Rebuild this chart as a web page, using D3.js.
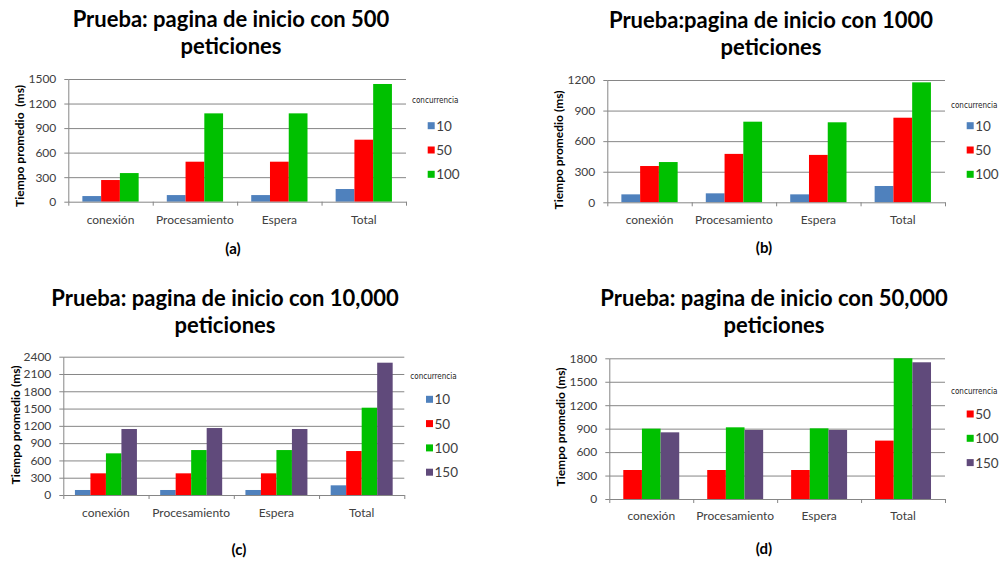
<!DOCTYPE html>
<html>
<head>
<meta charset="utf-8">
<script src="https://cdn.jsdelivr.net/npm/d3@7"></script>
<style>
  body { margin: 0; background: #fff; }
  svg { display: block; }
  text { font-family: Lato, "Open Sans", sans-serif; }
</style>
</head>
<body>
<svg id="chart" width="999" height="561"></svg>
<script>
// Shared categories of the Apache-bench timing breakdown
const categories = ["conexión", "Procesamiento", "Espera", "Total"];

// (a) 500 peticiones
const seriesA = ["10", "50", "100"];
const a10  = [69, 81, 81, 155];
const a50  = [265, 489, 489, 758];
const a100 = [350, 1080, 1080, 1439];

// (b) 1000 peticiones
const seriesB = ["10", "50", "100"];
const b10  = [78, 88, 78, 160];
const b50  = [356, 475, 465, 830];
const b100 = [395, 791, 785, 1177];

// (c) 10,000 peticiones
const seriesC = ["10", "50", "100", "150"];
const c10  = [87, 87, 87, 168];
const c50  = [376, 376, 376, 763];
const c100 = [723, 780, 780, 1515];
const c150 = [1145, 1162, 1145, 2296];

// (d) 50,000 peticiones
const seriesD = ["50", "100", "150"];
const d50  = [371, 371, 371, 747];
const d100 = [900, 917, 904, 1813];
const d150 = [853, 883, 883, 1749];

// Y axis tick labels
const ticksA = [0, 300, 600, 900, 1200, 1500];
const ticksB = [0, 300, 600, 900, 1200];
const ticksC = [0, 300, 600, 900, 1200, 1500, 1800, 2100, 2400];
const ticksD = [0, 300, 600, 900, 1200, 1500, 1800];

const seriesColor = {
  "10":  "#4F81BD",
  "50":  "#FF0000",
  "100": "#00C000",
  "150": "#604A7B"
};

const panels = [
  {
    title: ["Prueba: pagina de inicio con 500", "peticiones"], tag: "(a)",
    yTitle: "Tiempo promedio  (ms)", ticks: ticksA,
    series: seriesA, values: [a10, a50, a100],
    plot: { left: 68.3, right: 406, top: 79, bottom: 201.7 },
    titleX: 231, titleY: [27, 54], tagX: 233, tagY: 254,
    yTitleX: 19, yTitleY: 146, catY: 224,
    legend: { titleY: 100, rowY: 125.7, step: 24.3 }
  },
  {
    title: ["Prueba:pagina de inicio con 1000", "peticiones"], tag: "(b)",
    yTitle: "Tiempo promedio (ms)", ticks: ticksB,
    series: seriesB, values: [b10, b50, b100],
    plot: { left: 607.3, right: 945, top: 80, bottom: 202.3 },
    titleX: 771, titleY: [28, 55], tagX: 764, tagY: 253,
    yTitleX: 558, yTitleY: 150, catY: 224,
    legend: { titleY: 105.7, rowY: 125.7, step: 24.3 }
  },
  {
    title: ["Prueba: pagina de inicio con 10,000", "peticiones"], tag: "(c)",
    yTitle: "Tiempo promedio (ms)", ticks: ticksC,
    series: seriesC, values: [c10, c50, c100, c150],
    plot: { left: 63.3, right: 404.3, top: 356.7, bottom: 495 },
    titleX: 225, titleY: [306, 333], tagX: 239, tagY: 555,
    yTitleX: 15, yTitleY: 425, catY: 517,
    legend: { titleY: 376, rowY: 399.3, step: 24.3 }
  },
  {
    title: ["Prueba: pagina de inicio con 50,000", "peticiones"], tag: "(d)",
    yTitle: "Tiempo promedio (ms)", ticks: ticksD,
    series: seriesD, values: [d50, d100, d150],
    plot: { left: 609.3, right: 945, top: 358.3, bottom: 499 },
    titleX: 774, titleY: [306, 333], tagX: 764, tagY: 554,
    yTitleX: 560, yTitleY: 427, catY: 520,
    legend: { titleY: 391, rowY: 414, step: 24.3 }
  }
];

const svg = d3.select("#chart");
const axisColor = "#868686";
const labelColor = "#404040";

panels.forEach(p => {
  const g = svg.append("g");
  const { left, right, top, bottom } = p.plot;
  const yMax = p.ticks[p.ticks.length - 1];

  const x0 = d3.scaleBand().domain(categories).range([left, right]).padding(0);
  const x1 = d3.scaleBand().domain(p.series).range([0, x0.bandwidth()])
    .paddingInner(0).paddingOuter(0.75);
  const y = d3.scaleLinear().domain([0, yMax]).range([bottom, top]).clamp(true);

  // Horizontal gridlines
  g.append("g")
    .attr("transform", `translate(${left},0)`)
    .call(d3.axisLeft(y).tickValues(p.ticks.slice(1)).tickSize(-(right - left)).tickFormat(""))
    .call(a => a.select(".domain").remove())
    .call(a => a.selectAll("line").attr("stroke", axisColor).attr("stroke-width", 1));

  // Bars
  const rows = categories.map((c, i) => ({ cat: c, vals: p.series.map((s, k) => ({ s, v: p.values[k][i] })) }));
  g.append("g").selectAll("g").data(rows).join("g")
    .attr("transform", d => `translate(${x0(d.cat)},0)`)
    .selectAll("rect").data(d => d.vals).join("rect")
    .attr("x", d => x1(d.s))
    .attr("width", x1.bandwidth())
    .attr("y", d => y(d.v))
    .attr("height", d => bottom - y(d.v))
    .attr("fill", d => seriesColor[d.s]);

  // Left axis with value labels
  g.append("g")
    .attr("transform", `translate(${left},0)`)
    .call(d3.axisLeft(y).tickValues(p.ticks).tickSizeInner(4).tickSizeOuter(0).tickPadding(8).tickFormat(d3.format("d")))
    .call(a => a.select(".domain").attr("stroke", axisColor))
    .call(a => a.selectAll("line").attr("stroke", axisColor))
    .call(a => a.selectAll("text").attr("fill", labelColor).style("font-size", "12px")
      .style("font-family", "Lato, sans-serif"));

  // Bottom axis: line and category boundary ticks
  const xb = d3.scaleLinear().domain([0, categories.length]).range([left, right]);
  g.append("g")
    .attr("transform", `translate(0,${bottom})`)
    .call(d3.axisBottom(xb).tickValues(d3.range(categories.length + 1)).tickSizeInner(4).tickSizeOuter(0).tickFormat(""))
    .call(a => a.select(".domain").attr("stroke", axisColor))
    .call(a => a.selectAll("line").attr("stroke", axisColor));

  // Category labels
  g.append("g").selectAll("text").data(categories).join("text")
    .attr("x", d => x0(d) + x0.bandwidth() / 2)
    .attr("y", p.catY)
    .attr("text-anchor", "middle")
    .attr("fill", labelColor)
    .style("font-size", "12px")
    .text(d => d);

  // Title (two lines)
  g.append("g").selectAll("text").data(p.title).join("text")
    .attr("x", p.titleX)
    .attr("y", (d, i) => p.titleY[i])
    .attr("text-anchor", "middle")
    .attr("fill", "#000")
    .style("font-size", "22px")
    .style("font-weight", "bold")
    .text(d => d);

  // Y axis title
  g.append("text")
    .attr("transform", `translate(${p.yTitleX},${p.yTitleY}) rotate(-90)`)
    .attr("text-anchor", "middle")
    .attr("dominant-baseline", "central")
    .attr("fill", "#000")
    .style("font-size", "12px")
    .style("font-weight", "bold")
    .style("white-space", "pre")
    .text(p.yTitle);

  // Panel tag
  g.append("text")
    .attr("x", p.tagX).attr("y", p.tagY)
    .attr("text-anchor", "middle")
    .attr("fill", "#000")
    .style("font-size", "15px")
    .style("font-weight", "bold")
    .text(p.tag);

  // Legend
  const lg = g.append("g");
  lg.append("text")
    .attr("x", right + 6).attr("y", p.legend.titleY)
    .attr("dominant-baseline", "central")
    .attr("fill", "#222")
    .style("font-family", "'Liberation Sans Narrow', 'DejaVu Sans Condensed', sans-serif")
    .style("font-size", "8px")
    .text("concurrencia");
  const item = lg.selectAll("g.item").data(p.series).join("g")
    .attr("class", "item")
    .attr("transform", (d, i) => `translate(${right + 21.7},${p.legend.rowY + i * p.legend.step})`);
  item.append("rect")
    .attr("x", 0).attr("y", -3.5).attr("width", 7).attr("height", 7)
    .attr("fill", d => seriesColor[d]);
  item.append("text")
    .attr("x", 8.5).attr("y", 0)
    .attr("dominant-baseline", "central")
    .attr("fill", labelColor)
    .style("font-size", "13.5px")
    .text(d => d);
});
</script>
</body>
</html>
